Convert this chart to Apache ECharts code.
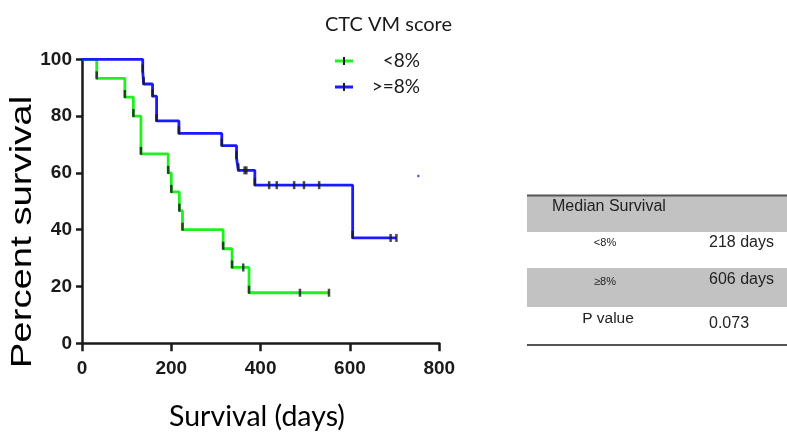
<!DOCTYPE html>
<html>
<head>
<meta charset="utf-8">
<script src="https://cdn.jsdelivr.net/npm/echarts@6/dist/echarts.min.js"></script>
<style>
  html, body { margin: 0; padding: 0; background: #fff; }
  #chart { width: 787px; height: 440px; }
</style>
</head>
<body>
<div id="chart"></div>
<script>
// Axis ticks
const xTicks = [0, 200, 400, 600, 800];
const yTicks = [0, 20, 40, 60, 80, 100];

// Group labels
const groupNames = ['<8%', '>=8%'];

// Kaplan-Meier steps: [day, percent surviving after the death(s) on that day]
const lowEvents = [[33, 93.3], [96, 86.7], [115, 80.0], [132, 66.7], [193, 60.0], [200, 53.3],
                   [218, 46.7], [225, 40.0], [316, 33.3], [336, 26.7], [374, 17.8]];
const lowCensored = [[361, 26.7], [488, 17.8], [553, 17.8]];

const highEvents = [[136, 95.7], [138, 91.3], [158, 87.0], [167, 78.3], [217, 73.9], [313, 69.6],
                    [346, 65.2], [350, 60.9], [387, 55.7], [606, 37.1]];
const highCensored = [[364, 60.9], [368, 60.9], [419, 55.7], [436, 55.7], [475, 55.7], [497, 55.7],
                      [531, 55.7], [691, 37.1], [704, 37.1]];

const strayPoint = [[753, 58.9]];

// Summary table
const tableLabels = ['Median Survival', '<8%', '≥8%', 'P value'];
const tableValues = ['', '218 days', '606 days', '0.073'];

const LOW_COLOR = '#1ff01f';
const HIGH_COLOR = '#1a1aff';
const INK = '#1a1a1a';

function curve(events, censored) {
  const pts = [[0, 100]].concat(events, censored);
  pts.sort((a, b) => a[0] - b[0]);
  return pts;
}

const tickLabelFont = {
  fontFamily: "'Liberation Sans Narrow', 'Liberation Sans', Arial, sans-serif",
  fontWeight: 'bold',
  fontSize: 19,
  color: INK
};

const chart = echarts.init(document.getElementById('chart'), null, { renderer: 'canvas' });

// Table graphics
const tblLeft = 527, tblRight = 787;
const rowTops = [196, 232, 268, 307, 344];
const tableGraphics = [];
[0, 2].forEach(i => {
  tableGraphics.push({
    type: 'rect', silent: true,
    shape: { x: tblLeft, y: rowTops[i], width: tblRight - tblLeft, height: rowTops[i + 1] - rowTops[i] },
    style: { fill: '#c2c2c2' }
  });
});
tableGraphics.push({ type: 'line', silent: true, shape: { x1: tblLeft, y1: 195.5, x2: tblRight, y2: 195.5 }, style: { stroke: '#555', lineWidth: 2 } });
tableGraphics.push({ type: 'line', silent: true, shape: { x1: tblLeft, y1: 345, x2: tblRight, y2: 345 }, style: { stroke: '#555', lineWidth: 2 } });
const labelPos = [[552, 207, 'left', 16], [605, 243, 'center', 11], [605, 282, 'center', 11], [608, 319, 'center', 15.5]];
const valuePos = [[0, 0], [709, 243], [709, 280], [709, 324]];
tableLabels.forEach((t, i) => {
  tableGraphics.push({
    type: 'text', silent: true, x: labelPos[i][0], y: labelPos[i][1],
    style: { text: t, fill: '#222', font: labelPos[i][3] + 'px "Liberation Sans", Arial, sans-serif', textAlign: labelPos[i][2], textVerticalAlign: 'middle' }
  });
  if (tableValues[i]) {
    tableGraphics.push({
      type: 'text', silent: true, x: valuePos[i][0], y: valuePos[i][1],
      style: { text: tableValues[i], fill: '#222', font: '16px "Liberation Sans", Arial, sans-serif', textAlign: 'left', textVerticalAlign: 'middle' }
    });
  }
});

// Legend
const legendGraphics = [
  { type: 'text', silent: true, x: 325, y: 25,
    style: { text: 'CTC VM score', fill: INK, font: '20px Lato, sans-serif', textAlign: 'left', textVerticalAlign: 'middle' } }
];
[[61, LOW_COLOR, groupNames[0]], [87, HIGH_COLOR, groupNames[1]]].forEach(([y, c, name]) => {
  legendGraphics.push({ type: 'line', silent: true, shape: { x1: 335, y1: y, x2: 353, y2: y }, style: { stroke: c, lineWidth: 3 } });
  legendGraphics.push({ type: 'rect', silent: true, shape: { x: 343, y: y - 4, width: 2, height: 8 }, style: { fill: INK } });
  legendGraphics.push({ type: 'text', silent: true, x: 420, y: y,
    style: { text: name, fill: INK, font: '19px Lato, sans-serif', textAlign: 'right', textVerticalAlign: 'middle' } });
});

// Axis titles
const titleGraphics = [
  { type: 'text', silent: true, x: 23, y: 232, rotation: Math.PI / 2, scaleX: 1.32,
    style: { text: 'Percent survival', fill: '#000', font: '29px "Liberation Sans", Arial, sans-serif', textAlign: 'center', textVerticalAlign: 'middle' } },
  { type: 'text', silent: true, x: 257, y: 417,
    style: { text: 'Survival (days)', fill: '#000', font: '28.5px Lato, sans-serif', textAlign: 'center', textVerticalAlign: 'middle' } }
];

const tickMark = { symbol: 'rect', symbolSize: [2.5, 8] };

chart.setOption({
  animation: false,
  grid: { left: 82, top: 59.3, right: 347.7, bottom: 96.7, containLabel: false },
  xAxis: {
    type: 'value', min: xTicks[0], max: xTicks[xTicks.length - 1], interval: xTicks[1] - xTicks[0],
    axisLine: { show: true, onZero: false, lineStyle: { color: INK, width: 2.5 } },
    axisTick: { show: true, length: 8, lineStyle: { color: INK, width: 2.5 } },
    axisLabel: Object.assign({ margin: 16 }, tickLabelFont),
    splitLine: { show: false }
  },
  yAxis: {
    type: 'value', min: yTicks[0], max: yTicks[yTicks.length - 1], interval: yTicks[1] - yTicks[0],
    axisLine: { show: true, onZero: false, lineStyle: { color: INK, width: 2.5 } },
    axisTick: { show: true, length: 6, lineStyle: { color: INK, width: 2.5 } },
    axisLabel: Object.assign({ margin: 10 }, tickLabelFont),
    splitLine: { show: false }
  },
  series: [
    { name: groupNames[0], type: 'line', step: 'end', data: curve(lowEvents, lowCensored),
      showSymbol: false, lineStyle: { color: LOW_COLOR, width: 2.8 }, z: 2 },
    { name: groupNames[1], type: 'line', step: 'end', data: curve(highEvents, highCensored),
      showSymbol: false, lineStyle: { color: HIGH_COLOR, width: 2.8 }, z: 3 },
    { type: 'scatter', data: lowEvents.concat(highEvents), symbol: tickMark.symbol, symbolSize: tickMark.symbolSize,
      symbolOffset: [0, -3], itemStyle: { color: INK }, z: 4, silent: true },
    { type: 'scatter', data: lowCensored.concat(highCensored), symbol: tickMark.symbol, symbolSize: tickMark.symbolSize,
      itemStyle: { color: INK }, z: 4, silent: true },
    { type: 'scatter', data: strayPoint, symbol: 'circle', symbolSize: 2.5,
      itemStyle: { color: HIGH_COLOR }, z: 4, silent: true }
  ],
  graphic: tableGraphics.concat(legendGraphics, titleGraphics)
});
</script>
</body>
</html>
